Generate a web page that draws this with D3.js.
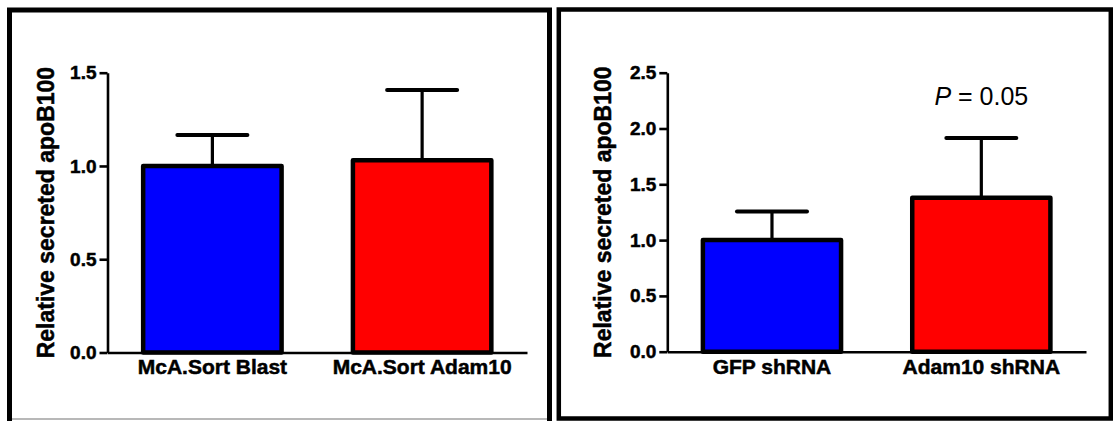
<!DOCTYPE html>
<html>
<head>
<meta charset="utf-8">
<title>Relative secreted apoB100</title>
<script src="https://d3js.org/d3.v7.min.js"></script>
<style>
body { margin: 0; background: #fff; }
svg text { font-family: "Liberation Sans", Arial, sans-serif; }
.axis path, .axis line { stroke: #000; stroke-width: 2.6; }
.axis text { font-weight: bold; fill: #000; stroke: #000; stroke-width: 0.5; }
.ylabel { font-weight: bold; font-size: 23px; stroke: #000; stroke-width: 0.5; }
</style>
</head>
<body>
<svg width="1113" height="421"></svg>
<script>
// left panel (McA sort)
var catsA = ["McA.Sort Blast", "McA.Sort Adam10"];
var meanA = [1.0, 1.03];
var errA = [0.166, 0.377];
var ticksA = [0, 0.5, 1.0, 1.5];

// right panel (shRNA)
var catsB = ["GFP shRNA", "Adam10 shRNA"];
var meanB = [1.0, 1.38];
var errB = [0.257, 0.535];
var ticksB = [0, 0.5, 1.0, 1.5, 2.0, 2.5];

var colors = ["#0000ff", "#ff0000"];
var yTitle = "Relative secreted apoB100";

var svg = d3.select("svg");

// panel frames
svg.append("path")
    .attr("d", "M9.5,421V10H549.5V421")
    .attr("fill", "none").attr("stroke", "#000").attr("stroke-width", 5);
svg.append("line")
    .attr("x1", 12).attr("x2", 547).attr("y1", 419).attr("y2", 419)
    .attr("stroke", "#a0a0a0").attr("stroke-width", 1.5);
svg.append("rect")
    .attr("x", 558.8).attr("y", 9.5).attr("width", 552).attr("height", 409)
    .attr("fill", "none").attr("stroke", "#000").attr("stroke-width", 4.5);

function drawPanel(cats, means, errs, ticks, ax, x1, y0, y1, labelX) {
  var x = d3.scaleBand().domain(cats).range([ax, x1])
      .paddingInner(0.34).paddingOuter(0.17);
  var y = d3.scaleLinear().domain([0, d3.max(ticks)]).range([y0, y1]);
  var g = svg.append("g");

  // error bars (upper only)
  var eb = g.selectAll(".err").data(cats).enter().append("g");
  eb.append("line")
      .attr("x1", function(d) { return x(d) + x.bandwidth() / 2; })
      .attr("x2", function(d) { return x(d) + x.bandwidth() / 2; })
      .attr("y1", function(d, i) { return y(means[i]); })
      .attr("y2", function(d, i) { return y(means[i] + errs[i]); })
      .attr("stroke", "#000").attr("stroke-width", 3.2);
  eb.append("line")
      .attr("x1", function(d) { return x(d) + x.bandwidth() / 2 - 35; })
      .attr("x2", function(d) { return x(d) + x.bandwidth() / 2 + 35; })
      .attr("y1", function(d, i) { return y(means[i] + errs[i]); })
      .attr("y2", function(d, i) { return y(means[i] + errs[i]); })
      .attr("stroke", "#000").attr("stroke-width", 4).attr("stroke-linecap", "round");

  g.selectAll("rect").data(cats).enter().append("rect")
      .attr("x", function(d) { return x(d); })
      .attr("width", x.bandwidth())
      .attr("y", function(d, i) { return y(means[i]); })
      .attr("height", function(d, i) { return y(0) - y(means[i]); })
      .attr("fill", function(d, i) { return colors[i]; })
      .attr("stroke", "#000").attr("stroke-width", 4.5)
      .attr("stroke-linejoin", "round");

  g.append("g").attr("class", "axis")
      .attr("transform", "translate(0," + y0 + ")")
      .call(d3.axisBottom(x).tickSize(0).tickPadding(7))
      .selectAll("text").style("font-size", "21px");

  g.append("g").attr("class", "axis")
      .attr("transform", "translate(" + ax + ",0)")
      .call(d3.axisLeft(y).tickValues(ticks).tickFormat(d3.format(".1f"))
            .tickSizeInner(8).tickSizeOuter(0).tickPadding(3))
      .selectAll("text").style("font-size", "19px");

  g.append("text").attr("class", "ylabel")
      .attr("transform", "translate(" + labelX + "," + ((y0 + y1) / 2) + ") rotate(-90)")
      .attr("text-anchor", "middle")
      .text(yTitle);

  return { x: x, y: y };
}

drawPanel(catsA, meanA, errA, ticksA, 107.5, 527, 352.5, 72.7, 53.5);
var right = drawPanel(catsB, meanB, errB, ticksB, 667.3, 1086, 351.7, 72.7, 610.5);

// significance note above the Adam10 shRNA bar
var pt = svg.append("text")
    .attr("x", right.x(catsB[1]) + right.x.bandwidth() / 2)
    .attr("y", 105)
    .attr("text-anchor", "middle")
    .style("font-size", "25px");
pt.append("tspan").style("font-style", "italic").text("P");
pt.append("tspan").text(" = 0.05");
</script>
</body>
</html>
